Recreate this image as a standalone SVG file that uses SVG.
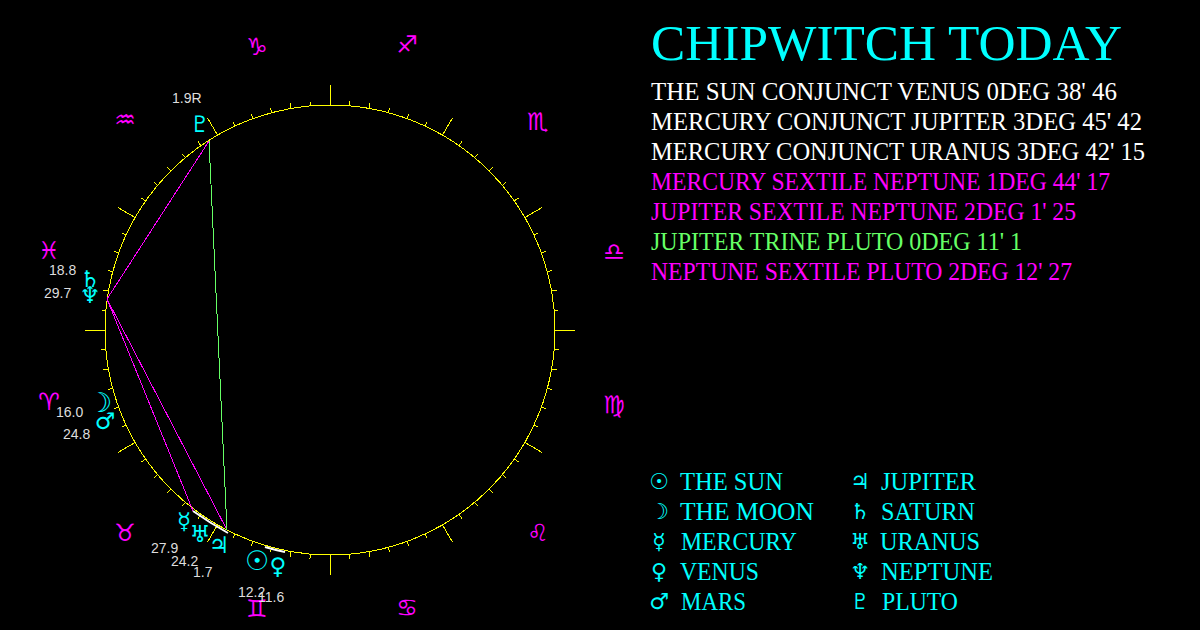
<svg xmlns="http://www.w3.org/2000/svg" width="1200" height="630" viewBox="0 0 1200 630">
<style>
.ring{fill:none;stroke:#ff0;stroke-width:1;shape-rendering:crispEdges}
.tick{stroke:#ff0;stroke-width:1;shape-rendering:crispEdges}
.sx{stroke:#f0f;stroke-width:1;shape-rendering:crispEdges;fill:none}
.tr{stroke:#6f6;stroke-width:1;shape-rendering:crispEdges;fill:none}
.cj{stroke:#fff;stroke-width:2;fill:none}
.z{font-family:"DejaVu Sans",sans-serif;font-size:24px;fill:#f0f;text-anchor:middle}
.p{font-family:"DejaVu Sans",sans-serif;font-size:23px;fill:#0ff;text-anchor:middle}
.b{font-size:27px}
.g{font-family:"DejaVu Sans",sans-serif;font-size:22px;fill:#0ff;text-anchor:middle}
.n{font-family:"Liberation Sans",Arial,sans-serif;font-size:14px;fill:#ddd}
.h{font-family:"Liberation Serif",serif;fill:#0ff;font-size:50px}
.a{font-family:"Liberation Serif",serif;font-size:25px}
.l{font-family:"Liberation Serif",serif;font-size:25px;fill:#0ff}
</style>
<defs>
<g id="sector">
<line class="tick" x1="330" y1="105" x2="330" y2="85"/>
<line class="tick" x1="330" y1="105" x2="330" y2="100" transform="rotate(5 330 330)"/>
<line class="tick" x1="330" y1="105" x2="330" y2="100" transform="rotate(10 330 330)"/>
<line class="tick" x1="330" y1="105" x2="330" y2="100" transform="rotate(15 330 330)"/>
<line class="tick" x1="330" y1="105" x2="330" y2="100" transform="rotate(20 330 330)"/>
<line class="tick" x1="330" y1="105" x2="330" y2="100" transform="rotate(25 330 330)"/>
</g>
</defs>
<rect width="1200" height="630" fill="#000"/>
<g id="wheel">
<circle class="ring" cx="330" cy="330" r="225"/>
<use href="#sector"/>
<use href="#sector" transform="rotate(30 330 330)"/>
<use href="#sector" transform="rotate(60 330 330)"/>
<use href="#sector" transform="rotate(90 330 330)"/>
<use href="#sector" transform="rotate(120 330 330)"/>
<use href="#sector" transform="rotate(150 330 330)"/>
<use href="#sector" transform="rotate(180 330 330)"/>
<use href="#sector" transform="rotate(210 330 330)"/>
<use href="#sector" transform="rotate(240 330 330)"/>
<use href="#sector" transform="rotate(270 330 330)"/>
<use href="#sector" transform="rotate(300 330 330)"/>
<use href="#sector" transform="rotate(330 330 330)"/>
</g>
<g id="connectors">
<path class="cj" d="M193 511 Q210 523 228 533"/>
<path class="cj" d="M265 547 Q275 550 285 552"/>
<line class="sx" x1="107" y1="299" x2="209" y2="141"/>
<line class="sx" x1="107" y1="299" x2="193" y2="511"/>
<line class="sx" x1="107" y1="299" x2="227" y2="530"/>
<line class="tr" x1="209" y1="141" x2="227" y2="530"/>
</g>
<g id="zodiac">
<text class="z" x="257" y="55">♑</text>
<text class="z" x="407" y="53">♐</text>
<text class="z" x="125" y="128">♒</text>
<text class="z" x="538" y="130">♏</text>
<text class="z" x="614" y="260">♎</text>
<text class="z" x="614" y="413">♍</text>
<text class="z" x="538" y="541">♌</text>
<text class="z" x="407" y="616">♋</text>
<text class="z" x="257" y="617">♊</text>
<text class="z" x="125" y="541">♉</text>
<text class="z" x="49" y="410">♈</text>
<text class="z" x="49" y="259">♓</text>
</g>
<g id="planets">
<g id="pluto"><text class="p" x="200" y="132">♇</text><text class="n" x="172" y="103">1.9R</text></g>
<g id="saturn"><text class="p" x="90" y="287">♄</text><text class="n" x="49" y="275">18.8</text></g>
<g id="neptune"><text class="p" x="90" y="303">♆</text><text class="n" x="44" y="298">29.7</text></g>
<g id="moon"><text class="p b" x="100" y="412">☽</text><text class="n" x="56" y="417">16.0</text></g>
<g id="mars"><text class="p" x="105" y="429">♂</text><text class="n" x="63" y="439">24.8</text></g>
<g id="mercury"><text class="p" x="184" y="529">☿</text><text class="n" x="151" y="553">27.9</text></g>
<g id="uranus"><text class="p" x="200" y="542">♅</text><text class="n" x="171" y="566">24.2</text></g>
<g id="jupiter"><text class="p" x="219" y="553">♃</text><text class="n" x="193" y="577">1.7</text></g>
<g id="sun"><text class="p b" x="257" y="570">☉</text><text class="n" x="238" y="597">12.2</text></g>
<g id="venus"><text class="p" x="278" y="574">♀</text><text class="n" x="258" y="602">11.6</text></g>
</g>
<g id="title"><text class="h" x="651" y="60" textLength="471" lengthAdjust="spacingAndGlyphs">CHIPWITCH TODAY</text></g>
<g id="aspects">
<text class="a" x="651" y="100" fill="#fff" textLength="466" lengthAdjust="spacingAndGlyphs">THE SUN CONJUNCT VENUS 0DEG 38' 46</text>
<text class="a" x="651" y="130" fill="#fff" textLength="491" lengthAdjust="spacingAndGlyphs">MERCURY CONJUNCT JUPITER 3DEG 45' 42</text>
<text class="a" x="651" y="160" fill="#fff" textLength="494" lengthAdjust="spacingAndGlyphs">MERCURY CONJUNCT URANUS 3DEG 42' 15</text>
<text class="a" x="651" y="190" fill="#f0f" textLength="459" lengthAdjust="spacingAndGlyphs">MERCURY SEXTILE NEPTUNE 1DEG 44' 17</text>
<text class="a" x="651" y="220" fill="#f0f" textLength="425" lengthAdjust="spacingAndGlyphs">JUPITER SEXTILE NEPTUNE 2DEG 1' 25</text>
<text class="a" x="651" y="250" fill="#6f6" textLength="371" lengthAdjust="spacingAndGlyphs">JUPITER TRINE PLUTO 0DEG 11' 1</text>
<text class="a" x="651" y="280" fill="#f0f" textLength="421" lengthAdjust="spacingAndGlyphs">NEPTUNE SEXTILE PLUTO 2DEG 12' 27</text>
</g>
<g id="legend">
<text class="g" x="659" y="489">☉</text><text class="l" x="680" y="490" textLength="103" lengthAdjust="spacingAndGlyphs">THE SUN</text>
<text class="g" x="659" y="519">☽</text><text class="l" x="680" y="520" textLength="134" lengthAdjust="spacingAndGlyphs">THE MOON</text>
<text class="g" x="659" y="549">☿</text><text class="l" x="681" y="550" textLength="116" lengthAdjust="spacingAndGlyphs">MERCURY</text>
<text class="g" x="659" y="579">♀</text><text class="l" x="680" y="580" textLength="79" lengthAdjust="spacingAndGlyphs">VENUS</text>
<text class="g" x="659" y="609">♂</text><text class="l" x="681" y="610" textLength="65" lengthAdjust="spacingAndGlyphs">MARS</text>
<text class="g" x="860" y="489">♃</text><text class="l" x="881" y="490" textLength="95" lengthAdjust="spacingAndGlyphs">JUPITER</text>
<text class="g" x="860" y="519">♄</text><text class="l" x="881" y="520" textLength="94" lengthAdjust="spacingAndGlyphs">SATURN</text>
<text class="g" x="860" y="549">♅</text><text class="l" x="880" y="550" textLength="100" lengthAdjust="spacingAndGlyphs">URANUS</text>
<text class="g" x="860" y="579">♆</text><text class="l" x="881" y="580" textLength="112" lengthAdjust="spacingAndGlyphs">NEPTUNE</text>
<text class="g" x="860" y="609">♇</text><text class="l" x="882" y="610" textLength="76" lengthAdjust="spacingAndGlyphs">PLUTO</text>
</g>
</svg>
